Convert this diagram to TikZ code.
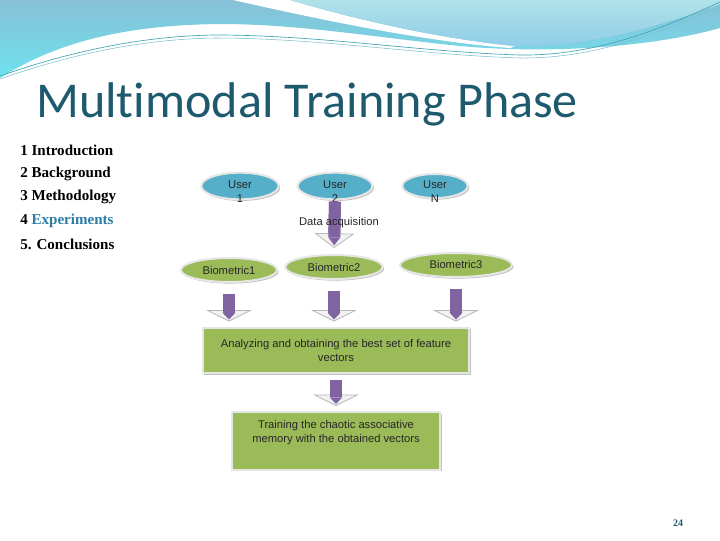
\documentclass[tikz,border=0pt]{standalone}
\usepackage{fontspec}
\setmainfont{Liberation Serif}
\newfontfamily\titlefont[Ligatures=NoCommon]{Carlito}
\newfontfamily\diafont{Liberation Sans}
\usetikzlibrary{shapes.geometric,arrows.meta,shadows,calc}
\definecolor{titleteal}{HTML}{1E5A6E}
\definecolor{expblue}{HTML}{2C7CA6}
\definecolor{userblue}{HTML}{55AFC8}
\definecolor{biogreen}{HTML}{9BBB59}
\definecolor{arrpurple}{HTML}{8064A2}
\definecolor{waveA}{HTML}{87C0D6}
\definecolor{waveAb}{HTML}{6EE2EE}
\definecolor{waveC}{HTML}{B0E2E8}
\definecolor{waveCb}{HTML}{8ECCE8}
\definecolor{waveline}{HTML}{3FA5B5}
\definecolor{rimgray}{HTML}{E6E6E6}
\definecolor{headfill}{HTML}{F2F2F2}
\definecolor{headedge}{HTML}{B8B8B8}
\begin{document}
\begin{tikzpicture}[x=0.75pt,y=-0.75pt,
  menu/.style={anchor=west,inner sep=0pt,font=\fontsize{11.3}{13}\selectfont\bfseries},
  diatext/.style={font=\diafont\fontsize{8.4}{10.5}\selectfont,text=black!85},
  shad/.style={drop shadow={shadow xshift=1.2pt,shadow yshift=-1.2pt,fill=black!30,opacity=0.8}},
  usernode/.style={ellipse,fill=userblue,draw=rimgray,line width=1.5pt,inner sep=0pt,shad},
  bionode/.style={ellipse,fill=biogreen,draw=rimgray,line width=1.5pt,inner sep=0pt,shad,diatext},
  boxnode/.style={rectangle,fill=biogreen,draw=rimgray,line width=1.5pt,inner sep=0pt,shad},
  bigarr/.style={line width=9pt,draw=arrpurple,
    -{Triangle[width=30pt 0,length=11pt 0,color=headedge,fill=headfill,line width=0.6pt]}},
  bigin/.style={line width=9pt,draw=arrpurple,
    -{Triangle[width=9pt 0,length=6pt 0,color=arrpurple,line width=0pt]}},
  smallarr/.style={line width=9.5pt,draw=arrpurple,
    -{Triangle[width=34pt 0,length=8.5pt 0,color=headedge,fill=headfill,line width=0.6pt]}},
  smallin/.style={line width=9.5pt,draw=arrpurple,
    -{Triangle[width=9.5pt 0,length=5pt 0,color=arrpurple,line width=0pt]}}
]
\useasboundingbox (0,0) rectangle (720,540);
\fill[white] (0,0) rectangle (720,540);

% ---- top wave background ----
\shade[top color=waveA,bottom color=waveAb]
  (0,0) -- (720,0) -- (720,28)
  .. controls (660,45) and (560,55) .. (460,46)
  .. controls (380,38) and (300,24) .. (220,24)
  .. controls (130,25) and (60,40) .. (0,78) -- cycle;
\fill[white] (233,0) .. controls (330,22) and (430,42) .. (510,48)
  -- (515,46) .. controls (430,38) and (340,15) .. (290,0) -- cycle;
\shade[top color=waveC,bottom color=waveCb]
  (290,0) -- (720,0) -- (720,4)
  .. controls (650,30) and (580,48) .. (515,46)
  .. controls (430,38) and (340,15) .. (290,0) -- cycle;
\draw[waveline,line width=0.5pt]
  (0,76) .. controls (80,48) and (150,36) .. (215,35)
  .. controls (320,35) and (420,52) .. (520,55)
  .. controls (600,56) and (670,25) .. (720,2);
\draw[waveline!70,line width=0.4pt]
  (0,79) .. controls (80,51) and (150,39) .. (215,38)
  .. controls (320,38) and (420,55) .. (520,58)
  .. controls (600,59) and (670,28) .. (720,6);

% ---- title ----
\node[anchor=base west,inner sep=0pt,text=titleteal,font=\titlefont\fontsize{37.6}{40}\selectfont]
  (title) at (36,117) {Multimodal Training Phase};

% ---- menu ----
\node[menu] (m1) at (20,150) {1 Introduction};
\node[menu] (m2) at (20,174) {2 Background};
\node[menu] (m3) at (20,197) {3 Methodology};
\node[menu] (m4) at (20,221) {4 \textcolor{expblue}{Experiments}};
\node[menu] (m5) at (20,244) {5. Conclusions};

% ---- users ----
\node[usernode,minimum width=58pt,minimum height=20pt,
  label={[diatext,align=center,yshift=-4pt]center:User\\1}] (u1) at (240,186) {};
\node[usernode,minimum width=56pt,minimum height=20pt,
  label={[diatext,align=center,yshift=-4pt]center:User\\2}] (u2) at (335,186) {};
\node[usernode,minimum width=49pt,minimum height=18pt,
  label={[diatext,align=center,yshift=-4pt]center:User\\N}] (uN) at (435,186) {};

% ---- biometrics ----
\node[bionode,minimum width=72pt,minimum height=18pt] (b1) at (229,270) {Biometric1};
\node[bionode,minimum width=73pt,minimum height=18pt] (b2) at (334,267) {Biometric2};
\node[bionode,minimum width=84pt,minimum height=18pt] (b3) at (456,265) {\raisebox{1.5pt}{Biometric3}};

% ---- boxes ----
\node[boxnode,minimum width=200pt,minimum height=34pt,diatext,align=center] (box1) at (336,350.5)
  {Analyzing and obtaining the best set of feature\\vectors};
\node[boxnode,minimum width=156pt,minimum height=43pt,
  label={[diatext,align=center,anchor=north,yshift=-3.5pt]north:Training the chaotic associative\\memory with the obtained vectors}]
  (box2) at (336,441) {};

% ---- arrows ----
\draw[bigarr,shorten <=1pt,shorten >=4.5pt] (u2.south) -- (b2.north);
\draw[bigin,shorten <=1pt,shorten >=6.5pt] (u2.south) -- (b2.north);
\node[diatext] (da) at (339,223) {Data acquisition};

\foreach \b in {b1,b2,b3}{
  \draw[smallarr,shorten <=8pt,shorten >=4pt] (\b.south) -- (\b.south |- box1.north);
  \draw[smallin,shorten <=8pt,shorten >=5.5pt] (\b.south) -- (\b.south |- box1.north);
}
\draw[smallarr,shorten <=4pt,shorten >=4pt] (box1.south) -- (box2.north);
\draw[smallin,shorten <=4pt,shorten >=5.5pt] (box1.south) -- (box2.north);

% ---- page number ----
\node[text=titleteal,font=\fontsize{7.5}{9}\selectfont\bfseries] (pn) at (678,523) {24};
\end{tikzpicture}
\end{document}
